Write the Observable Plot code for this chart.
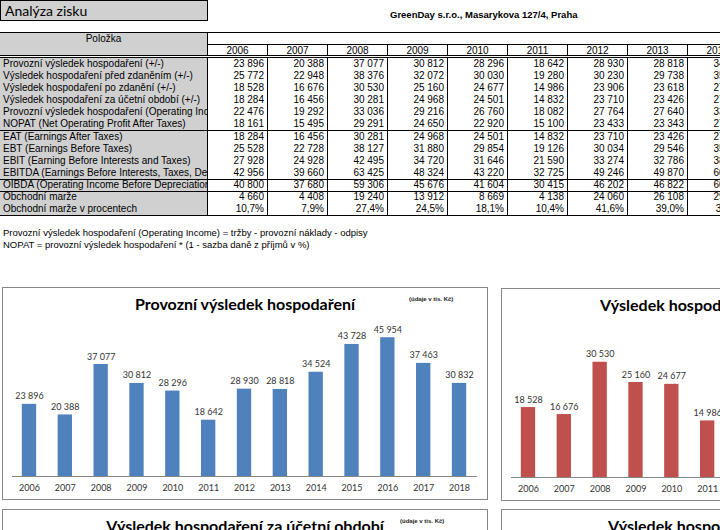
<!DOCTYPE html>
<html><head><meta charset="utf-8">
<script src="https://cdn.jsdelivr.net/npm/d3@7"></script>
<script src="https://cdn.jsdelivr.net/npm/@observablehq/plot@0.6"></script>
<style>
html,body{margin:0;padding:0;width:720px;height:530px;overflow:hidden;background:#fff;}
#page{position:relative;width:720px;height:530px;overflow:hidden;font-family:"Liberation Sans",Arial,sans-serif;color:#000;}
#page div{position:absolute;box-sizing:border-box;white-space:nowrap;}
.svgwrap svg{display:block;max-width:none !important;}
</style></head><body><div id="page"></div>
<script>
// ---------- data ----------
const tableYears = ["2006","2007","2008","2009","2010","2011","2012","2013","2014"];
const rowLabels = [
  "Provozní výsledek hospodaření (+/-)",
  "Výsledek hospodaření před zdaněním (+/-)",
  "Výsledek hospodaření po zdanění (+/-)",
  "Výsledek hospodaření za účetní období (+/-)",
  "Provozní výsledek hospodaření (Operating Incom",
  "NOPAT (Net Operating Profit After Taxes)",
  "EAT (Earnings After Taxes)",
  "EBT (Earnings Before Taxes)",
  "EBIT (Earning Before Interests and Taxes)",
  "EBITDA (Earnings Before Interests, Taxes, Depre",
  "OIBDA (Operating Income Before Depreciation a",
  "Obchodní marže",
  "Obchodní marže v procentech"
];
const provozniVH      = [23896,20388,37077,30812,28296,18642,28930,28818,34524];
const vhPredZdanenim  = [25772,22948,38376,32072,30030,19280,30230,29738,35906];
const vhPoZdaneni     = [18528,16676,30530,25160,24677,14986,23906,23618,27720];
const vhZaObdobi      = [18284,16456,30281,24968,24501,14832,23710,23426,27482];
const operatingIncome = [22476,19292,33036,29216,26760,18082,27764,27640,33190];
const nopat           = [18161,15495,29291,24650,22920,15100,23433,23343,27962];
const eat             = [18284,16456,30281,24968,24501,14832,23710,23426,27482];
const ebt             = [25528,22728,38127,31880,29854,19126,30034,29546,35706];
const ebit            = [27928,24928,42495,34720,31646,21590,33274,32786,38524];
const ebitda          = [42956,39660,63425,48324,43220,32725,49246,49870,60210];
const oibda           = [40800,37680,59306,45676,41604,30415,46202,46822,60030];
const obchodniMarze   = [4660,4408,19240,13912,8669,4138,24060,26108,29850];
const marzeProcent    = [10.7,7.9,27.4,24.5,18.1,10.4,41.6,39.0,37.2];

const chartYears = ["2006","2007","2008","2009","2010","2011","2012","2013","2014","2015","2016","2017","2018"];
const chartProvozni = [23896,20388,37077,30812,28296,18642,28930,28818,34524,43728,45954,37463,30832];
const chartPoZdaneni = [18528,16676,30530,25160,24677,14986,23906,23618,27720,35100,36980,30110,24780];

// ---------- helpers ----------
const page = document.getElementById("page");
function div(css, text) {
  const d = document.createElement("div");
  d.style.cssText = css;
  if (text != null) d.textContent = text;
  page.appendChild(d);
  return d;
}
const fmtNum = v => d3.format(",")(v).replace(/,/g, " ");
const fmtPct = v => v.toFixed(1).replace(".", ",") + "%";
const GRAY = "#d0d0d0";
const CELLFONT = `font:10px "Liberation Sans",Arial,sans-serif;line-height:12px;`;

// ---------- header ----------
div(`left:0;top:0;width:208px;height:21px;background:${GRAY};border:1px solid #000;font:14px Lato,sans-serif;line-height:19px;padding-left:4px;`, "Analýza zisku");
div(`left:390px;top:9px;font:bold 9.5px "Liberation Sans",Arial,sans-serif;line-height:12px;`, "GreenDay s.r.o., Masarykova 127/4, Praha");

// table header
div(`left:0;top:32px;width:720px;height:1px;background:#000;`);
div(`left:0;top:33px;width:207px;height:23px;background:${GRAY};font:10px "Liberation Sans",Arial,sans-serif;text-align:center;line-height:11px;`, "Položka");
div(`left:207px;top:44px;width:513px;height:1px;background:#000;`);
tableYears.forEach((y, i) => {
  div(`left:${207 + 60 * i}px;top:${i === 0 ? 32 : 44}px;width:1px;height:${i === 0 ? 24 : 12}px;background:#000;`);
  div(`left:${208 + 60 * i}px;top:45px;width:59px;height:11px;font:10px "Liberation Sans",Arial,sans-serif;text-align:center;line-height:11px;`, y);
});
div(`left:0;top:55px;width:720px;height:1px;background:#000;`);
div(`left:0;top:57px;width:720px;height:1px;background:#000;`);

// table body
const rows = [provozniVH, vhPredZdanenim, vhPoZdaneni, vhZaObdobi, operatingIncome, nopat,
              eat, ebt, ebit, ebitda, oibda, obchodniMarze, marzeProcent];
div(`left:0;top:58px;width:207px;height:157px;background:${GRAY};`);
rows.forEach((vals, k) => {
  const top = 58 + 12 * k + (k >= 6 ? 1 : 0);
  div(`left:0;top:${top}px;width:207px;height:12px;overflow:hidden;padding-left:3px;${CELLFONT}`, rowLabels[k]);
  vals.forEach((v, i) => {
    div(`left:${208 + 60 * i}px;top:${top}px;width:59px;height:12px;padding-right:3px;text-align:right;${CELLFONT}`,
        k === 12 ? fmtPct(v) : fmtNum(v));
  });
});
for (let i = 0; i < tableYears.length; i++) div(`left:${207 + 60 * i}px;top:58px;width:1px;height:157px;background:#000;`);
[130, 179, 191, 215].forEach(y => div(`left:0;top:${y}px;width:720px;height:1px;background:#000;`));

// footnotes
div(`left:3px;top:227px;font:9.5px "Liberation Sans",Arial,sans-serif;line-height:12px;`, "Provozní výsledek hospodaření (Operating Income) = tržby - provozní náklady - odpisy");
div(`left:3px;top:239px;font:9.5px "Liberation Sans",Arial,sans-serif;line-height:12px;`, "NOPAT = provozní výsledek hospodaření * (1 - sazba daně z příjmů v %)");

// ---------- charts ----------
function chartBox(left, top, title, noteLeft, titleLeft) {
  div(`left:${left}px;top:${top}px;width:486px;height:213px;border:1px solid #868686;background:#fff;`);
  if (titleLeft != null)
    div(`left:${titleLeft}px;top:${top + 8}px;height:18px;font:bold 16px Lato,sans-serif;line-height:18px;`, title);
  else
    div(`left:${left}px;top:${top + 8}px;width:486px;height:18px;text-align:center;font:bold 16px Lato,sans-serif;line-height:18px;`, title);
  if (noteLeft != null) div(`left:${left + noteLeft}px;top:${top + 8}px;font:bold 6px "Liberation Sans",Arial,sans-serif;line-height:8px;color:#222;`, "(údaje v tis. Kč)");
}
function barChart(values, color, ymax) {
  const data = chartYears.map((y, i) => ({year: y, value: values[i]}));
  return Plot.plot({
    width: 485, height: 180,
    marginTop: 8, marginBottom: 21, marginLeft: 10, marginRight: 10,
    x: {domain: chartYears, padding: 0.6, align: 0.5, round: false, range: [-1.7, 485.7], label: null},
    y: {domain: [0, ymax], axis: null},
    style: {fontFamily: "Lato, sans-serif", fontSize: "9px", color: "#333", background: "transparent", maxWidth: "none"},
    marks: [
      Plot.barY(data, {x: "year", y: "value", fill: color}),
      Plot.ruleY([0], {stroke: "#868686"}),
      Plot.axisX({tickSize: 0, tickPadding: 8, fontSize: 9, label: null}),
      Plot.text(data, {x: "year", y: "value", text: d => fmtNum(d.value), lineAnchor: "bottom", dy: -5, fontSize: 9, fill: "#333"})
    ]
  });
}
function place(svg, left, top) {
  const w = div(`left:${left}px;top:${top}px;width:485px;height:180px;overflow:visible;`);
  w.className = "svgwrap";
  w.appendChild(svg);
}

chartBox(2, 287, "Provozní výsledek hospodaření", 407);
place(barChart(chartProvozni, "#4f81bd", 50000), 2, 317);

chartBox(501, 288, "Výsledek hospodaření po zdanění", 407, 600);
place(barChart(chartPoZdaneni, "#c0504d", 40000), 501, 318);

chartBox(2, 509, "Výsledek hospodaření za účetní období", 398);
chartBox(501, 509, "Výsledek hospodaření před zdaněním", null, 608);
</script></body></html>
